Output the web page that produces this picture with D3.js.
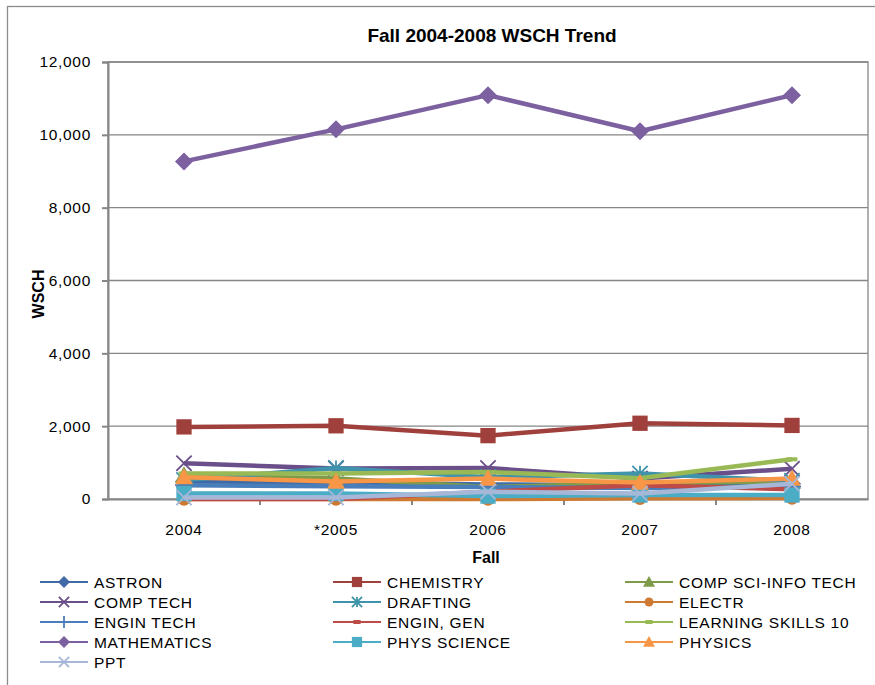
<!DOCTYPE html>
<html>
<head>
<style>
body { margin: 0; background: #fff; }
svg text { font-family: "Liberation Sans", Arial, sans-serif; fill: #000; }
.tick text { font-size: 15.5px; letter-spacing: 0.7px; }
</style>
<script src="https://d3js.org/d3.v7.min.js"></script>
</head>
<body>
<div id="chart"></div>
<script>
var years = ["2004", "*2005", "2006", "2007", "2008"];
var yTicks = [0, 2000, 4000, 6000, 8000, 10000, 12000];

var seriesNames = ["ASTRON", "CHEMISTRY", "COMP SCI-INFO TECH", "COMP TECH", "DRAFTING", "ELECTR",
  "ENGIN TECH", "ENGIN, GEN", "LEARNING SKILLS 10", "MATHEMATICS", "PHYS SCIENCE", "PHYSICS", "PPT"];

var astron      = [480, 450, 400, 380, 420];
var chemistry   = [1980, 2010, 1740, 2080, 2020];
var compSci     = [650, 560, 330, 430, 480];
var compTech    = [980, 840, 850, 560, 830];
var drafting    = [520, 850, 600, 700, 500];
var electr      = [0, 0, 0, 20, 30];
var enginTech   = [380, 350, 330, 300, 340];
var enginGen    = [0, 0, 200, 380, 270];
var learning    = [700, 700, 740, 570, 1090];
var mathematics = [9270, 10150, 11090, 10100, 11090];
var physScience = [150, 150, 80, 110, 110];
var physics     = [600, 480, 560, 450, 560];
var ppt         = [40, 40, 200, 150, 420];

var colors  = ["#3f6aa6", "#a0403c", "#7f9a48", "#6a4f8a", "#3f93ab", "#cf7a33",
  "#4a7ebb", "#be4b48", "#98b954", "#7d60a0", "#4bacc6", "#f79646", "#a6b7d8"];
var markers = ["diamond", "square", "triangle", "x", "asterisk", "circle",
  "plus", "dash", "dash", "diamond", "square", "triangle", "x"];

var values = [astron, chemistry, compSci, compTech, drafting, electr, enginTech,
  enginGen, learning, mathematics, physScience, physics, ppt];
var series = seriesNames.map(function(n, i) {
  return {name: n, color: colors[i], marker: markers[i], values: values[i]};
});

var width = 875, height = 685;
var plot = {left: 108, right: 868, top: 62, bottom: 499};

var svg = d3.select("#chart").append("svg")
  .attr("width", width).attr("height", height);

// outer chart frame
svg.append("rect").attr("x", 7.5).attr("y", 6.5)
  .attr("width", 880).attr("height", 700)
  .attr("fill", "#fff").attr("stroke", "#8c8c8c").attr("stroke-width", 1.3);

var x = d3.scaleBand().domain(years).range([plot.left, plot.right]);
var y = d3.scaleLinear().domain([0, 12000]).range([plot.bottom, plot.top]);
var cx = function(i) { return x(years[i]) + x.bandwidth() / 2; };

// plot frame
svg.append("rect").attr("x", plot.left).attr("y", plot.top)
  .attr("width", plot.right - plot.left).attr("height", plot.bottom - plot.top)
  .attr("fill", "none").attr("stroke", "#868686").attr("stroke-width", 1.3);

// gridlines
svg.append("g").selectAll("line").data(yTicks.slice(1)).enter().append("line")
  .attr("x1", plot.left).attr("x2", plot.right)
  .attr("y1", function(d) { return y(d); }).attr("y2", function(d) { return y(d); })
  .attr("stroke", "#868686").attr("stroke-width", 1.3);

// y axis
var yAxis = svg.append("g").attr("transform", "translate(" + plot.left + ",0)")
  .call(d3.axisLeft(y).tickValues(yTicks).tickSize(6).tickPadding(11).tickFormat(d3.format(",")));
yAxis.select(".domain").attr("stroke", "#868686").attr("stroke-width", 2);
yAxis.selectAll(".tick line").attr("stroke", "#868686").attr("stroke-width", 2);

// x axis
var xAxis = svg.append("g").attr("transform", "translate(0," + plot.bottom + ")")
  .call(d3.axisBottom(x).tickSize(0).tickPadding(25).tickSizeOuter(0));
xAxis.select(".domain").attr("stroke", "#868686").attr("stroke-width", 2);
xAxis.selectAll(".tick line").remove();
xAxis.selectAll(".bound").data(years.slice(1)).enter().append("line")
  .attr("x1", function(d) { return x(d); }).attr("x2", function(d) { return x(d); })
  .attr("y1", 0).attr("y2", 6).attr("stroke", "#868686").attr("stroke-width", 2);

// titles
svg.append("text").attr("x", 492).attr("y", 42).attr("text-anchor", "middle")
  .style("font-size", "19px").style("font-weight", "bold").text("Fall 2004-2008 WSCH Trend");
svg.append("text").attr("transform", "translate(44,294) rotate(-90)").attr("text-anchor", "middle")
  .style("font-size", "16px").style("font-weight", "bold").text("WSCH");
svg.append("text").attr("x", 486).attr("y", 563).attr("text-anchor", "middle")
  .style("font-size", "16px").style("font-weight", "bold").text("Fall");

function drawMarker(g, type, color, s) {
  if (type === "diamond") {
    g.append("path").attr("d", "M0," + (-s) + "L" + s + ",0L0," + s + "L" + (-s) + ",0Z").attr("fill", color);
  } else if (type === "square") {
    var h = s * 0.85;
    g.append("rect").attr("x", -h).attr("y", -h).attr("width", 2 * h).attr("height", 2 * h).attr("fill", color);
  } else if (type === "triangle") {
    g.append("path").attr("d", "M0," + (-s) + "L" + s + "," + (s * 0.8) + "L" + (-s) + "," + (s * 0.8) + "Z").attr("fill", color);
  } else if (type === "circle") {
    g.append("circle").attr("r", s * 0.75).attr("fill", color);
  } else if (type === "x") {
    var k = s * 0.85;
    g.append("path").attr("d", "M" + (-k) + "," + (-k) + "L" + k + "," + k + "M" + (-k) + "," + k + "L" + k + "," + (-k))
      .attr("stroke", color).attr("stroke-width", 1.8).attr("fill", "none");
  } else if (type === "asterisk") {
    var a = s * 0.85;
    g.append("path").attr("d", "M" + (-a) + "," + (-a) + "L" + a + "," + a + "M" + (-a) + "," + a + "L" + a + "," + (-a) + "M0," + (-a) + "L0," + a)
      .attr("stroke", color).attr("stroke-width", 1.8).attr("fill", "none");
  } else if (type === "plus") {
    g.append("path").attr("d", "M0," + (-s) + "L0," + s + "M" + (-s) + ",0L" + s + ",0")
      .attr("stroke", color).attr("stroke-width", 1.8).attr("fill", "none");
  } else if (type === "dash") {
    g.append("rect").attr("x", -s * 0.6).attr("y", -2).attr("width", s * 1.2).attr("height", 4).attr("fill", color);
  }
}

var line = d3.line().x(function(d, i) { return cx(i); }).y(function(d) { return y(d); });

series.forEach(function(s) {
  var g = svg.append("g");
  g.append("path").datum(s.values).attr("d", line)
    .attr("fill", "none").attr("stroke", s.color).attr("stroke-width", 4.5).attr("stroke-linejoin", "round");
  s.values.forEach(function(v, i) {
    var m = g.append("g").attr("transform", "translate(" + cx(i) + "," + y(v) + ")");
    drawMarker(m, s.marker, s.color, 9);
  });
});

// legend
var legCols = [40, 333, 625];
series.forEach(function(s, i) {
  var lx = legCols[i % 3], ly = 582 + Math.floor(i / 3) * 20;
  var g = svg.append("g").attr("transform", "translate(" + lx + "," + ly + ")");
  g.append("line").attr("x1", 0).attr("x2", 48).attr("y1", 0).attr("y2", 0)
    .attr("stroke", s.color).attr("stroke-width", 2);
  var m = g.append("g").attr("transform", "translate(24,0)");
  drawMarker(m, s.marker, s.color, 6);
  g.append("text").attr("x", 54).attr("y", 5.5)
    .style("font-size", "15.5px").style("letter-spacing", "0.7px").text(s.name);
});
</script>
</body>
</html>
